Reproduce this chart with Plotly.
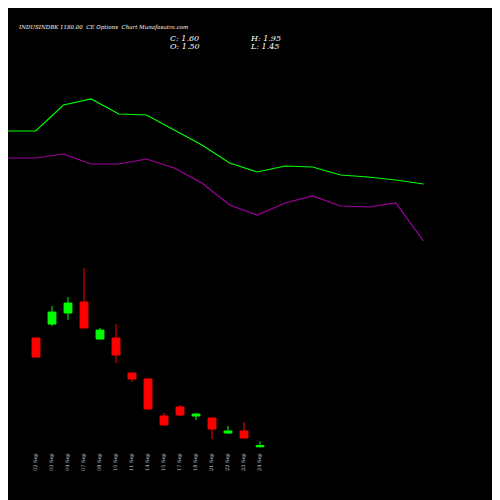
import plotly.graph_objects as go

dates = ['02 Sep', '03 Sep', '04 Sep', '07 Sep', '08 Sep', '10 Sep', '11 Sep', '14 Sep',
         '15 Sep', '17 Sep', '18 Sep', '21 Sep', '22 Sep', '23 Sep', '24 Sep']
opens = [10.57, 11.73, 12.65, 13.57, 10.48, 10.57, 7.65, 7.15, 4.07, 4.82, 4.07, 3.90, 2.65, 2.82, 1.50]
highs = [10.57, 13.23, 13.98, 16.40, 11.40, 11.73, 7.65, 7.23, 4.32, 4.98, 4.32, 3.90, 3.23, 3.57, 1.95]
lows = [8.98, 11.57, 12.07, 11.40, 10.48, 8.48, 6.90, 4.65, 3.32, 4.07, 3.73, 2.15, 2.57, 2.23, 1.45]
closes = [8.98, 12.73, 13.48, 11.40, 11.23, 9.15, 7.15, 4.65, 3.32, 4.15, 4.23, 2.98, 2.82, 2.23, 1.60]

# indicator lines (arbitrary scale)
green_line = [277, 277, 303, 309, 294, 293, 278, 263, 245, 236, 242, 241, 233, 231, 228, 224]
purple_line = [250, 250, 254, 244, 244, 249, 240, 225, 203, 193, 205, 212, 202, 201, 205, 167]

fig = go.Figure()
fig.add_trace(go.Candlestick(
    x=list(range(len(dates))), open=opens, high=highs, low=lows, close=closes,
    increasing=dict(line=dict(color='#00ff00', width=1), fillcolor='#00ff00'),
    decreasing=dict(line=dict(color='#ff0000', width=1), fillcolor='#ff0000'),
    whiskerwidth=0, showlegend=False))
fig.add_trace(go.Scatter(x=list(range(len(green_line))), y=green_line, mode='lines',
                         line=dict(color='#00ff00', width=1.2), xaxis='x2', yaxis='y2', showlegend=False))
fig.add_trace(go.Scatter(x=list(range(len(purple_line))), y=purple_line, mode='lines',
                         line=dict(color='#a000a0', width=1.2), xaxis='x2', yaxis='y2', showlegend=False))

for i, d in enumerate(dates):
    fig.add_annotation(x=i, y=0.07, yref='paper', text=d, textangle=-90, showarrow=False,
                       font=dict(color='#cccccc', size=5, family='DejaVu Serif'))

fig.add_annotation(x=0.016, y=0.972, xref='paper', yref='paper', xanchor='left', showarrow=False,
                   text='<i>INDUSINDBK 1180.00  CE Options  Chart Munafasutra.com</i>',
                   font=dict(color='white', size=5.5, family='DejaVu Serif'))
for txt, x, y in [('C: 1.60', 0.32, 0.952), ('O: 1.50', 0.32, 0.936),
                  ('H: 1.95', 0.48, 0.952), ('L: 1.45', 0.48, 0.936)]:
    fig.add_annotation(x=x, y=y, xref='paper', yref='paper', xanchor='left', showarrow=False,
                       text='<i>' + txt + '</i>', font=dict(color='white', size=8, family='DejaVu Serif'))

fig.update_layout(
    width=500, height=500, margin=dict(l=0, r=0, t=0, b=0, pad=0, autoexpand=False),
    paper_bgcolor='black', plot_bgcolor='black',
    xaxis=dict(range=[-1.75, 29.5], visible=False, rangeslider=dict(visible=False)),
    yaxis=dict(range=[-3.6, 38.07], visible=False),
    xaxis2=dict(range=[0, 18.05], overlaying='x', visible=False),
    yaxis2=dict(range=[-100, 400], overlaying='y', visible=False),
)
fig.write_html('out.html')
